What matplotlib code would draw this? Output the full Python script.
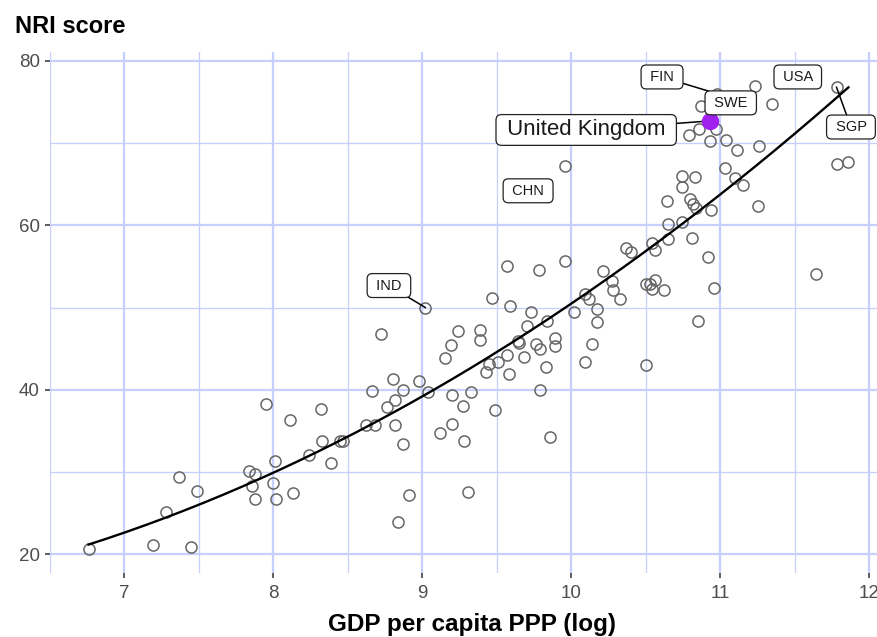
import matplotlib.pyplot as plt
import numpy as np

plt.rcParams['font.family'] = ['Liberation Sans', 'DejaVu Sans']

# log GDP per capita (PPP) and NRI score, unlabelled countries
gdp_log = [6.76, 7.19, 7.45, 7.28, 7.37, 7.49, 7.95, 8.11, 7.84, 7.88,
           8.01, 7.86, 8.00, 7.88, 8.02, 8.13, 8.32, 8.33, 8.45, 8.47,
           8.24, 8.39, 8.62, 8.68, 8.82, 8.72, 8.80, 8.98, 8.66, 8.87,
           8.82, 8.76, 8.87, 8.91, 8.84,
           9.24, 9.19, 9.15, 9.39, 9.39, 9.04, 9.20, 9.33, 9.27, 9.12,
           9.20, 9.28, 9.31,
           9.57, 9.78, 9.96, 9.47, 9.59, 9.73, 9.70, 9.84, 9.64, 9.65,
           9.76, 9.79, 9.89, 9.89, 9.57, 9.68, 9.51, 9.45, 9.43, 9.58,
           9.83, 9.79, 9.49, 9.86,
           9.96, 10.21, 10.27, 10.28, 10.33, 10.09, 10.12, 10.02, 10.17, 10.17,
           10.14, 10.09,
           10.37, 10.40, 10.54, 10.56, 10.64, 10.74, 10.83, 10.74, 10.80, 10.82,
           10.84, 10.94, 10.65, 10.74, 10.65, 10.81, 10.92, 10.50, 10.53, 10.56,
           10.54, 10.62, 10.96, 10.85, 10.50,
           11.03, 11.10, 11.15, 11.25, 10.79, 10.86, 10.97, 10.93, 11.04, 11.11,
           11.26, 10.87, 11.35,
           11.78, 11.86, 11.64]
nri = [20.6, 21.1, 20.9, 25.1, 29.4, 27.7, 38.2, 36.3, 30.1, 29.7,
       31.3, 28.3, 28.7, 26.7, 26.7, 27.4, 37.6, 33.8, 33.7, 33.7,
       32.1, 31.1, 35.7, 35.7, 35.7, 46.8, 41.3, 41.0, 39.8, 40.0,
       38.8, 37.9, 33.4, 27.2, 23.9,
       47.2, 45.4, 43.9, 47.3, 46.1, 39.7, 39.3, 39.7, 38.0, 34.7,
       35.8, 33.8, 27.5,
       55.1, 54.6, 55.7, 51.1, 50.2, 49.4, 47.7, 48.3, 45.9, 45.7,
       45.6, 45.0, 46.3, 45.3, 44.2, 44.0, 43.4, 43.1, 42.2, 41.9,
       42.8, 40.0, 37.5, 34.3,
       67.2, 54.4, 53.2, 52.1, 51.0, 51.7, 51.0, 49.5, 49.8, 48.2,
       45.5, 43.4,
       57.3, 56.7, 57.8, 57.0, 63.0, 66.0, 65.9, 64.7, 63.2, 62.6,
       62.1, 61.9, 60.2, 60.4, 58.3, 58.4, 56.1, 52.9, 52.8, 53.3,
       52.3, 52.1, 52.4, 48.3, 43.0,
       67.0, 65.8, 64.9, 62.4, 71.0, 71.7, 71.7, 70.2, 70.4, 69.2,
       69.7, 74.5, 74.8,
       67.5, 67.7, 54.1]

# labelled countries
codes = ['IND', 'CHN', 'FIN', 'SWE', 'USA', 'SGP']
code_gdp = [9.02, 9.71, 10.98, 11.07, 11.23, 11.78]
code_nri = [50.0, 64.2, 76.0, 75.1, 77.0, 76.8]

uk_name = 'United Kingdom'
uk_gdp = 10.93
uk_nri = 72.7

x_ticks = [7, 8, 9, 10, 11, 12]
y_ticks = [20, 40, 60, 80]

# label box offsets from the point (dx, dy, draw segment)
label_offsets = {'IND': (-0.244, 2.67, True), 'CHN': (0.0, 0.0, False),
                 'FIN': (-0.371, 2.05, True), 'SWE': (0.0, -0.2, False),
                 'USA': (0.29, 1.05, False), 'SGP': (0.097, -4.84, True)}

fig = plt.figure(figsize=(8.77, 6.37), dpi=100)
ax = fig.add_axes([0.0568, 0.1009, 0.9514, 0.8175])

grid_col = '#c6cffd'
for v in np.arange(6.5, 12.2, 0.5):
    ax.axvline(v, color=grid_col, lw=1.6 if v % 1 == 0 else 0.9, zorder=0)
for v in range(20, 81, 10):
    ax.axhline(v, color=grid_col, lw=1.6 if v % 20 == 0 else 0.9, zorder=0)

all_x = np.array(gdp_log + code_gdp + [uk_gdp])
all_y = np.array(nri + code_nri + [uk_nri])

ax.plot(all_x, all_y, 'o', ms=8, mfc='none', mec='#666666', mew=1.1, zorder=2)

# quadratic fit line
coef = np.polyfit(all_x, all_y, 2)
xs = np.linspace(all_x.min(), all_x.max(), 200)
ax.plot(xs, np.polyval(coef, xs), color='black', lw=1.7, zorder=3)

ax.plot(uk_gdp, uk_nri, 'o', ms=11.5, color='#a020f0', zorder=4)

box = dict(boxstyle='round,pad=0.34,rounding_size=0.35', fc='white', ec='#222222', lw=0.9)
for c, gx, gy in zip(codes, code_gdp, code_nri):
    dx, dy, seg = label_offsets[c]
    if seg:
        ax.plot([gx, gx + dx], [gy, gy + dy], color='black', lw=1.1, zorder=4)
    ax.text(gx + dx, gy + dy, ' ' + c + ' ', fontsize=10.5, ha='center', va='center',
            color='#1a1a1a', bbox=box, zorder=5)

ax.plot([uk_gdp, uk_gdp - 0.83], [uk_nri, uk_nri - 1.1], color='black', lw=1.1, zorder=3.5)
ax.text(uk_gdp - 0.83, uk_nri - 1.1, ' ' + uk_name + ' ', fontsize=16, ha='center', va='center',
        color='#1a1a1a', zorder=5,
        bbox=dict(boxstyle='round,pad=0.22,rounding_size=0.25', fc='white', ec='#222222', lw=0.9))

ax.set_xlim(6.5, 12.1)
ax.set_ylim(17.73, 81.09)
ax.set_xticks(x_ticks)
ax.set_yticks(y_ticks)
for s in ax.spines.values():
    s.set_visible(False)
ax.tick_params(length=3.8, width=1.1, color='#333333', labelcolor='#4d4d4d',
               labelsize=13.5, pad=3.5)
ax.tick_params(axis='x', pad=5)

fig.text(15 / 877, 1 - 33 / 637, 'NRI score', fontsize=17, fontweight='bold',
         ha='left', va='baseline')
fig.text(472 / 877, 1 - 631 / 637, 'GDP per capita PPP (log)', fontsize=17.5,
         fontweight='bold', ha='center', va='baseline')

plt.savefig('out.png', dpi=100)
